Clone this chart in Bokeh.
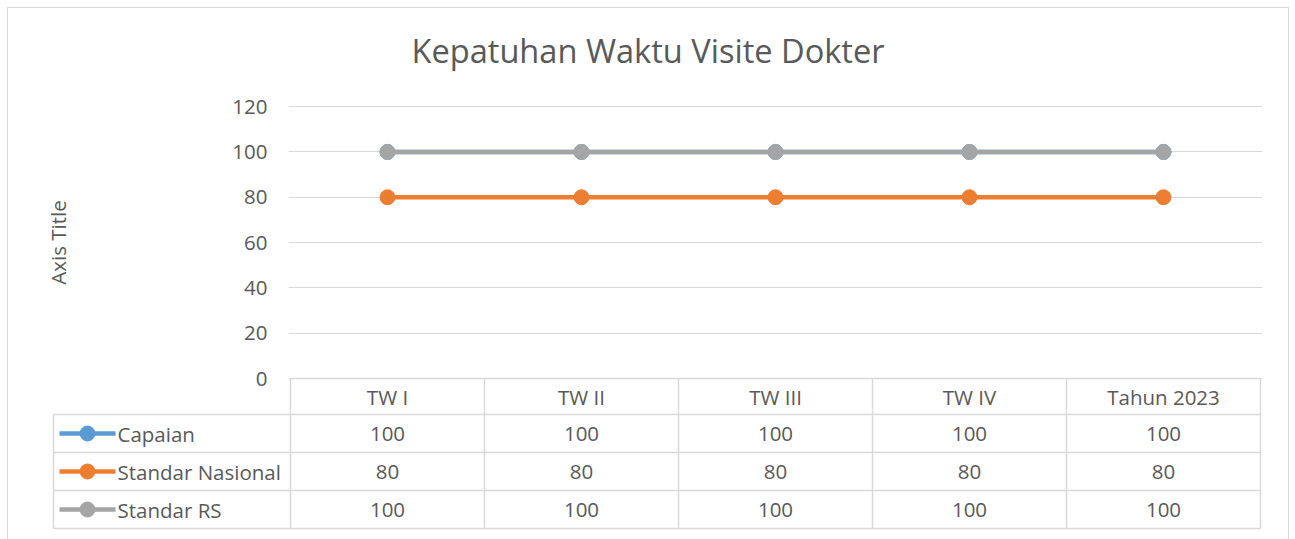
from bokeh.plotting import figure
from bokeh.models import Range1d, FixedTicker, LinearAxis, Grid, ColumnDataSource
from bokeh.layouts import column
from bokeh.core.properties import value
from bokeh.embed import file_html
from bokeh.resources import INLINE

# ---------------- data ----------------
chart_title = "Kepatuhan Waktu Visite Dokter"
y_axis_title = "Axis Title"
categories = ["TW I", "TW II", "TW III", "TW IV", "Tahun 2023"]
series_names = ["Capaian", "Standar Nasional", "Standar RS"]
capaian = [100, 100, 100, 100, 100]
standar_nasional = [80, 80, 80, 80, 80]
standar_rs = [100, 100, 100, 100, 100]
y_ticks = [0, 20, 40, 60, 80, 100, 120]

# ---------------- style / layout constants ----------------
colors = ["#5B9BD5", "#ED7D31", "#A5A5A5"]
FONT = "Open Sans"
FS = "20.5px"
TXT = "#595959"
GRID = "#D9D9D9"
W = 1280
CAT_PX = 194            # px width of one category column
LEG_PX = 237            # px width of the legend column of the table
PAD = 2                 # px padding so edge lines are not clipped
PPU = 273 / 120.5       # px per value unit
ABOVE_PX = 304          # frame extends this many px above value 0
TOP_BORDER = 66         # px above the frame (title zone)
HDR_H, ROW_H = 36, 38   # table header / row heights in px
SPLIT = 32              # px below value 0 where the upper figure ends

series_values = [capaian, standar_nasional, standar_rs]
n = len(categories)
xs = [i + 0.5 for i in range(n)]

# ---------------- chart (with table header row) ----------------
pA = figure(width=W, height=TOP_BORDER + ABOVE_PX + SPLIT,
            x_range=Range1d(-PAD / CAT_PX, n + PAD / CAT_PX),
            y_range=Range1d(-SPLIT / PPU, ABOVE_PX / PPU),
            output_backend="svg", toolbar_location=None,
            x_axis_location=None, y_axis_location=None,
            min_border_left=280, min_border_right=26, min_border_top=TOP_BORDER,
            min_border_bottom=0, title=chart_title)
pA.frame_align = False
pA.xgrid.visible = False
pA.ygrid.visible = False
pA.outline_line_color = None
pA.background_fill_color = "white"
pA.border_fill_color = "white"
pA.title.align = "left"
pA.title.vertical_align = "top"
pA.title.offset = 123
pA.title.standoff = 0
pA.title.text_font = FONT
pA.title.text_font_size = "32.6px"
pA.title.text_font_style = "normal"
pA.title.text_color = TXT

yaxis = LinearAxis(ticker=FixedTicker(ticks=y_ticks), axis_label=y_axis_title)
yaxis.axis_line_color = None
yaxis.major_tick_line_color = None
yaxis.minor_tick_line_color = None
yaxis.major_tick_out = 0
yaxis.major_tick_in = 0
yaxis.major_label_standoff = 21
yaxis.major_label_text_font = FONT
yaxis.major_label_text_font_size = FS
yaxis.major_label_text_color = TXT
yaxis.axis_label_text_font = FONT
yaxis.axis_label_text_font_size = FS
yaxis.axis_label_text_font_style = "normal"
yaxis.axis_label_text_color = TXT
yaxis.axis_label_standoff = 157
pA.add_layout(yaxis, "left")
pA.add_layout(Grid(dimension=1, ticker=yaxis.ticker, grid_line_color=GRID, grid_line_width=1))

for name, vals, c in zip(series_names, series_values, colors):
    src = ColumnDataSource(dict(x=xs, y=vals))
    pA.line("x", "y", source=src, line_width=4.5, line_color=c)
    pA.scatter("x", "y", source=src, size=15, fill_color=c, line_color=c)

# header row of the data table (below value 0)
hdr_bottom = -HDR_H / PPU
vx = list(range(n + 1))
pA.segment(x0=vx, y0=[0] * (n + 1), x1=vx, y1=[hdr_bottom] * (n + 1),
           line_color=GRID, line_width=1.5)
pA.segment(x0=[0], y0=[0], x1=[n], y1=[0], line_color=GRID, line_width=1.5)
pA.text(x=xs, y=[hdr_bottom / 2] * n, text=categories, text_font=value(FONT),
        text_font_size=FS, text_color=TXT, text_align="center", text_baseline="middle")

# ---------------- data table rows ----------------
row_edges = [HDR_H + k * ROW_H for k in range(len(series_names) + 1)]
total_h = 531
hB = total_h - pA.height
pB = figure(width=W, height=hB,
            x_range=Range1d(-(LEG_PX + PAD) / CAT_PX, n + PAD / CAT_PX),
            y_range=Range1d(SPLIT + hB, SPLIT), output_backend="svg",
            toolbar_location=None, x_axis_location=None, y_axis_location=None,
            min_border_left=43, min_border_right=26, min_border_top=0, min_border_bottom=0)
pB.frame_align = False
pB.outline_line_color = None
pB.xgrid.visible = False
pB.ygrid.visible = False
pB.background_fill_color = "white"
pB.border_fill_color = "white"

left_edge = -LEG_PX / CAT_PX
# horizontal lines
pB.segment(x0=[left_edge] * len(row_edges), y0=row_edges, x1=[n] * len(row_edges), y1=row_edges,
           line_color=GRID, line_width=1.5)
# vertical lines
vx = [left_edge] + list(range(n + 1))
vy0 = [HDR_H] + [0] * (n + 1)
vy1 = [row_edges[-1]] * (n + 2)
pB.segment(x0=vx, y0=vy0, x1=vx, y1=vy1, line_color=GRID, line_width=1.5)

for k, (name, vals, c) in enumerate(zip(series_names, series_values, colors)):
    yc = HDR_H + k * ROW_H + ROW_H / 2
    pB.text(x=xs, y=[yc] * n, text=[str(v) for v in vals], text_font=value(FONT),
            text_font_size=FS, text_color=TXT, text_align="center", text_baseline="middle")
    pB.segment(x0=[(59 - 290) / CAT_PX], y0=[yc], x1=[(115 - 290) / CAT_PX], y1=[yc],
               line_color=c, line_width=4.5)
    pB.scatter(x=[(87 - 290) / CAT_PX], y=[yc], size=15, fill_color=c, line_color=c)
    pB.text(x=[(117 - 290) / CAT_PX], y=[yc], text=[name], text_font=value(FONT),
            text_font_size=FS, text_color=TXT, text_align="left", text_baseline="middle")

layout = column(pA, pB, spacing=0, margin=(8, 0, 0, 8),
                styles={"outline": "1px solid #D9D9D9"})

with open("out.html", "w") as f:
    f.write(file_html(layout, INLINE))
